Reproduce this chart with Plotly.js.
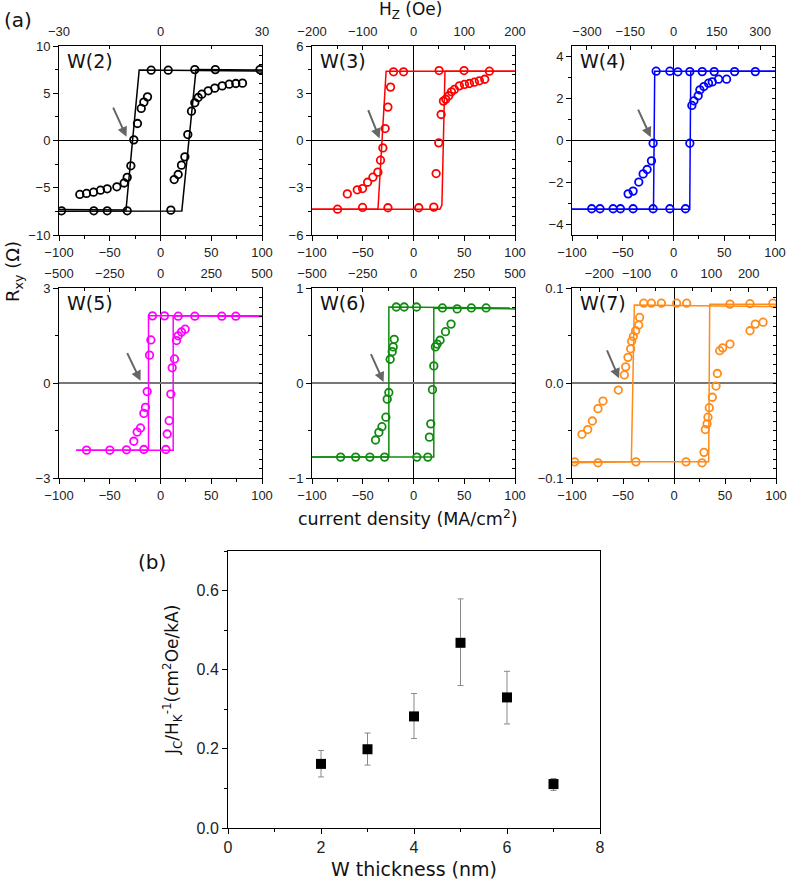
<!DOCTYPE html>
<html>
<head>
<meta charset="utf-8">
<script src="https://cdn.plot.ly/plotly-3.0.1.min.js"></script>
<style>html,body{margin:0;padding:0;background:#fff;}#chart{width:787px;height:884px;}</style>
</head>
<body>
<div id="chart"></div>
<script>
// ---------------- DATA ----------------
// W(2)
const w2LineX = [-100, 21, 35, 100, null, 100, -21, -34, -100];
const w2LineY = [-7.5, -7.45, 7.5, 7.45, null, 7.35, 7.45, -7.35, -7.3];
const w2PtX = [-9.2, 7.6, 33.8, 54, 98, -97.5, -65.7, -52.5, -32.8, 10.2,
  -79.5, -72.9, -66, -59.1, -52.5, -43, -35.8, -32.8, -29.2, -26.3, -22.7, -19, -16.4, -12.8,
  13.5, 17.4, 20.7, 24, 26.9, 30.5, 33.8, 37.1, 40.7, 47, 53.5, 60.8, 67.7, 74.2, 80.8];
const w2PtY = [7.44, 7.44, 7.5, 7.5, 7.5, -7.44, -7.44, -7.44, -7.44, -7.37,
  -5.71, -5.6, -5.47, -5.26, -5.11, -4.9, -4.5, -3.9, -2.68, 0.07, 1.8, 3.39, 4.06, 4.62,
  -4.13, -3.6, -2.61, -1.73, 0.63, 3.1, 3.99, 4.55, 4.9, 5.26, 5.54, 5.78, 5.96, 6.03, 6.07];

// W(3)
const w3LineX = [-100, 26, 28, 31, 100, null, 100, -27, -35, -100];
const w3LineY = [-4.36, -4.36, -4.1, 4.4, 4.4, null, 4.4, 4.4, -4.36, -4.36];
const w3PtX = [-19.7, -9.8, 25.2, 49.8, 74.8, -74.8, -50.2, -25.2, 5.2, 20,
  -65.2, -55.4, -50.2, -45.2, -40, -35.1, -32.5, -30.2, -27.9, -25.2, -22.6,
  22.3, 24.9, 27.2, 29.5, 31.8, 34.8, 37.4, 40.3, 45.2, 50.2, 55.1, 60, 64.9, 70.2];
const w3PtY = [4.36, 4.36, 4.44, 4.44, 4.4, -4.36, -4.25, -4.27, -4.27, -4.23,
  -3.39, -3.13, -3.05, -2.65, -2.33, -2.01, -1.25, -0.47, 0.76, 2.12, 3.39,
  -2.1, -0.15, 1.65, 2.5, 2.62, 2.84, 3.09, 3.24, 3.47, 3.56, 3.62, 3.7, 3.79, 3.89];

// W(4)
const w4LineX = [-100, 16, 17, 100, null, 100, -18.5, -19.7, -100];
const w4LineY = [-3.27, -3.27, 3.3, 3.3, null, 3.3, 3.3, -3.27, -3.27];
const w4PtX = [-17.1, -3.6, 4.3, 16.1, 28.3, 40.1, 60.2, 80.6,
  -80.6, -72.4, -59.5, -52.3, -39.8, -20.1, -3.6, 11.8,
  -44.7, -39.8, -34.2, -29.9, -26, -21.7, -20.1,
  16.1, 18.1, 20.1, 24.3, 26, 29.9, 34.5, 38.2, 44.4, 52.3];
const w4PtY = [3.3, 3.3, 3.27, 3.28, 3.28, 3.28, 3.28, 3.28,
  -3.25, -3.25, -3.25, -3.25, -3.25, -3.25, -3.25, -3.25,
  -2.54, -2.41, -1.98, -1.59, -1.38, -0.97, -0.13,
  -0.13, 1.67, 1.89, 2.13, 2.41, 2.57, 2.73, 2.79, 2.92, 2.92];

// W(5)
const w5LineX = [-83, 12.5, 12.5, 100, null, 100, -11.8, -11.8, -83];
const w5LineY = [-2.12, -2.12, 2.12, 2.1, null, 2.12, 2.12, -2.12, -2.12];
const w5PtX = [-7.9, 3.9, 17.4, 33.8, 60.4, 74.2,
  -72.9, -49.9, -33.5, -16.4, 5.3,
  -26.3, -23, -19.7, -16.4, -14.8, -13.1, -10.8, -9.5,
  6.6, 8.5, 10.2, 11.5, 13.8, 15.8, 17.4, 20.7, 24.3];
const w5PtY = [2.12, 2.12, 2.11, 2.11, 2.11, 2.11,
  -2.12, -2.12, -2.11, -2.1, -2.1,
  -1.84, -1.55, -1.42, -0.96, -0.77, -0.27, 0.88, 1.36,
  -1.61, -1.19, -0.35, 0.48, 0.76, 1.34, 1.49, 1.61, 1.7];

// W(6)
const w6LineX = [-100, 20, 20, 100, null, 95, -24.3, -24.3, -100];
const w6LineY = [-0.78, -0.78, 0.79, 0.78, null, 0.79, 0.8, -0.78, -0.78];
const w6PtX = [-17, -9.2, 3, 28.5, 43, 57, 71.5,
  -71.8, -57, -43, -28.5, 3.3, 14.1,
  -37.4, -34.1, -31.1, -27.2, -25.9, -24.3, -23, -21, -20, -19,
  15.7, 17, 18.7, 20, 21.6, 23.3, 26.2, 31.5, 37];
const w6PtY = [0.8, 0.8, 0.8, 0.79, 0.78, 0.79, 0.79,
  -0.78, -0.78, -0.78, -0.78, -0.78, -0.78,
  -0.6, -0.52, -0.46, -0.36, -0.17, -0.1, 0.25, 0.33, 0.38, 0.46,
  -0.57, -0.43, -0.07, 0.18, 0.38, 0.41, 0.45, 0.54, 0.62];

// W(7)
const w7LineX = [-100, 34, 35, 100, null, 100, -38.9, -41.8, -100];
const w7LineY = [-0.083, -0.083, 0.083, 0.083, null, 0.0805, 0.082, -0.083, -0.084];
const w7PtX = [-29.7, -22.2, -12.4, 2.6, 12.4, 54.9, 74.5, 97,
  -97.4, -74.5, -37.3, 11.8, 27.5,
  -90.2, -84.6, -80, -74.5, -69.6, -54.6, -48.7, -47.4, -45.1, -42.5, -41.5, -39.9, -37.6, -34.6, -33.7,
  29.4, 30.7, 32.4, 33.3, 34.6, 37.6, 41.2, 42.5, 44.8, 47.7, 54.9, 74.5, 79.7, 87.3];
const w7PtY = [0.084, 0.084, 0.084, 0.084, 0.084, 0.083, 0.0835, 0.084,
  -0.083, -0.084, -0.083, -0.083, -0.084,
  -0.054, -0.049, -0.04, -0.027, -0.019, -0.0074, 0.0085, 0.017, 0.027, 0.036, 0.044, 0.049, 0.055, 0.061, 0.069,
  -0.073, -0.049, -0.043, -0.036, -0.026, -0.015, -0.0032, 0.010, 0.034, 0.037, 0.041, 0.055, 0.062, 0.064];

// (b)
const thickness = [2, 3, 4, 5, 6, 7];
const ratio = [0.162, 0.199, 0.282, 0.468, 0.33, 0.111];
const errPlus = [0.034, 0.041, 0.058, 0.111, 0.066, 0.014];
const errMinus = [0.033, 0.040, 0.056, 0.108, 0.067, 0.016];

const panelLabels = ['W(2)', 'W(3)', 'W(4)', 'W(5)', 'W(6)', 'W(7)'];

// ---------------- CONFIG ----------------
const W = 787, H = 884;
const px = v => v / W, py = v => 1 - v / H;
const tickFont = {family: 'Liberation Sans, Arial, sans-serif', size: 13, color: '#222'};
const aid = n => (n === 1 ? '' : String(n));

const panels = [
  {lx: w2LineX, ly: w2LineY, ptx: w2PtX, pty: w2PtY, color: '#000000', yr: [-10, 10], ydt: 5, ymdt: 2.5, rdt: 1, hr: [-30, 30], hdt: 30, hmdt: 15, xd: [59, 262], yd: [46, 235], arrow: [-33.5, 0.39, -47.3, 3.63], zc: '#000', zw: 1},
  {lx: w3LineX, ly: w3LineY, ptx: w3PtX, pty: w3PtY, color: '#ff0000', yr: [-6, 6], ydt: 3, ymdt: 1.5, rdt: 0.6, hr: [-200, 200], hdt: 100, hmdt: 50, xd: [312, 515], yd: [46, 235], arrow: [-33.4, 0.13, -45.2, 2.03], zc: '#000', zw: 1},
  {lx: w4LineX, ly: w4LineY, ptx: w4PtX, pty: w4PtY, color: '#0000ff', yr: [-4.5, 4.5], ydt: 2, ymdt: 1, rdt: 0.5, hr: [-352, 352], hdt: 150, hmdt: 75, xd: [572, 775], yd: [46, 235], arrow: [-22.4, 0.16, -35.5, 1.54], zc: '#000', zw: 1},
  {lx: w5LineX, ly: w5LineY, ptx: w5PtX, pty: w5PtY, color: '#ff00ff', yr: [-3, 3], ydt: 3, ymdt: 1.5, rdt: 0.3, hr: [-500, 500], hdt: 250, hmdt: 125, xd: [59, 262], yd: [288, 478], arrow: [-19.7, 0.07, -33.5, 0.99], zc: '#777', zw: 2},
  {lx: w6LineX, ly: w6LineY, ptx: w6PtX, pty: w6PtY, color: '#108a10', yr: [-1, 1], ydt: 1, ymdt: 0.5, rdt: 0.1, hr: [-500, 500], hdt: 250, hmdt: 125, xd: [312, 515], yd: [288, 478], arrow: [-29.5, 0.01, -42.6, 0.32], zc: '#777', zw: 2},
  {lx: w7LineX, ly: w7LineY, ptx: w7PtX, pty: w7PtY, color: '#ff8c1a', yr: [-0.1, 0.1], ydt: 0.1, ymdt: 0.05, rdt: 0.01, hr: [-273, 273], hdt: 100, hmdt: 50, xd: [572, 776], yd: [288, 478], arrow: [-53.9, 0.0049, -66.3, 0.036], zc: '#777', zw: 2, fmt: '.1f'}
];

const traces = [];
const layout = {
  width: W, height: H,
  margin: {l: 0, r: 0, t: 0, b: 0},
  paper_bgcolor: '#fff', plot_bgcolor: '#fff',
  showlegend: false,
  font: {family: 'DejaVu Sans, Arial, sans-serif', color: '#222'},
  annotations: []
};

panels.forEach((p, i) => {
  const n = i + 1;       // bottom x & left y
  const m = i + 7;       // top x & right y
  const xb = 'x' + aid(n), yl = 'y' + aid(n), xt = 'x' + m, yr = 'y' + m;
  const xd = [px(p.xd[0]), px(p.xd[1])];
  const yd = [py(p.yd[1]), py(p.yd[0])];
  traces.push({x: p.lx, y: p.ly, xaxis: xb, yaxis: yl, mode: 'lines',
    line: {color: p.color, width: 1.5}, connectgaps: false, hoverinfo: 'skip'});
  traces.push({x: p.ptx, y: p.pty, xaxis: xb, yaxis: yl, mode: 'markers',
    marker: {symbol: 'circle-open', size: 7.5, color: p.color, line: {width: 1.8, color: p.color}}});
  // empty traces so the secondary (top / right) axes get a subplot and are drawn
  traces.push({x: [], y: [], xaxis: xt, yaxis: yl, mode: 'markers', hoverinfo: 'skip'});
  traces.push({x: [], y: [], xaxis: xb, yaxis: yr, mode: 'markers', hoverinfo: 'skip'});

  layout['xaxis' + aid(n)] = {domain: xd, range: [-100, 100], anchor: yl,
    showline: true, mirror: true, linecolor: '#000', linewidth: 1,
    ticks: 'outside', ticklen: 5, tickcolor: '#000', dtick: 50, tick0: 0,
    minor: {ticks: 'outside', ticklen: 3, dtick: 25, tick0: 0, tickcolor: '#000'},
    showgrid: false, zeroline: true, zerolinecolor: '#000', zerolinewidth: 1,
    tickfont: tickFont, tickangle: 0, fixedrange: true};
  layout['xaxis' + m] = {domain: xd, range: p.hr, autorange: false, anchor: yl, overlaying: xb, side: 'top',
    showline: false, ticks: 'inside', ticklen: 4, tickcolor: '#000', dtick: p.hdt, tick0: 0,
    minor: {ticks: 'inside', ticklen: 3, dtick: p.hmdt, tick0: 0, tickcolor: '#000'},
    ticklabelstandoff: 6,
    showgrid: false, zeroline: false, tickfont: tickFont, tickangle: 0, fixedrange: true};
  layout['yaxis' + aid(n)] = {domain: yd, range: p.yr, anchor: xb,
    showline: true, mirror: true, linecolor: '#000', linewidth: 1,
    ticks: 'outside', ticklen: 5, tickcolor: '#000', dtick: p.ydt, tick0: 0,
    minor: {ticks: 'outside', ticklen: 3, dtick: p.ymdt, tick0: 0, tickcolor: '#000'},
    showgrid: false, zeroline: true, zerolinecolor: p.zc, zerolinewidth: p.zw,
    tickfont: tickFont, tickformat: p.fmt || '', fixedrange: true};
  layout['yaxis' + m] = {domain: yd, range: p.yr, autorange: false, anchor: xb, overlaying: yl, side: 'right',
    showline: false, ticks: 'inside', ticklen: 3, tickcolor: '#000', dtick: p.rdt, tick0: 0,
    showticklabels: false, showgrid: false, zeroline: false, fixedrange: true};

  layout.annotations.push({xref: xb + ' domain', yref: yl + ' domain', x: 0.03, y: 0.99,
    xanchor: 'left', yanchor: 'top', showarrow: false, text: panelLabels[i],
    font: {family: 'DejaVu Sans, sans-serif', size: 19, color: '#111'}});
  layout.annotations.push({xref: xb, yref: yl, axref: xb, ayref: yl,
    x: p.arrow[0], y: p.arrow[1], ax: p.arrow[2], ay: p.arrow[3], text: '',
    showarrow: true, arrowhead: 2, arrowsize: 1, arrowwidth: 2, arrowcolor: '#666'});
});

// Panel (b)
const bTickFont = {family: 'Liberation Sans, Arial, sans-serif', size: 16, color: '#222'};
traces.push({x: thickness, y: ratio, xaxis: 'x13', yaxis: 'y13', mode: 'markers',
  marker: {symbol: 'square', size: 10, color: '#000'},
  error_y: {type: 'data', symmetric: false, array: errPlus, arrayminus: errMinus,
    color: '#888', thickness: 1, width: 3}});
layout.xaxis13 = {domain: [px(228), px(600)], range: [0, 8], anchor: 'y13',
  showline: true, mirror: true, linecolor: '#000', linewidth: 1,
  ticks: 'outside', ticklen: 5, tickcolor: '#000', dtick: 2, tick0: 0,
  minor: {ticks: 'outside', ticklen: 3, dtick: 1, tick0: 0, tickcolor: '#000'},
  showgrid: false, zeroline: false, tickfont: bTickFont, fixedrange: true};
layout.yaxis13 = {domain: [py(828), py(551)], range: [0, 0.7], anchor: 'x13',
  showline: true, mirror: true, linecolor: '#000', linewidth: 1,
  ticks: 'outside', ticklen: 5, tickcolor: '#000', dtick: 0.2, tick0: 0, tickformat: '.1f',
  minor: {ticks: 'outside', ticklen: 3, dtick: 0.1, tick0: 0, tickcolor: '#000'},
  showgrid: false, zeroline: false, tickfont: bTickFont, fixedrange: true};

// Titles & labels
const tfont = (s) => ({family: 'DejaVu Sans, sans-serif', size: s, color: '#111'});
layout.annotations.push(
  {xref: 'paper', yref: 'paper', x: px(2), y: py(20), xanchor: 'left', yanchor: 'middle', showarrow: false, text: '(a)', font: tfont(20)},
  {xref: 'paper', yref: 'paper', x: px(410), y: py(11), xanchor: 'center', yanchor: 'middle', showarrow: false, text: 'H<sub>Z</sub> (Oe)', font: tfont(17)},
  {xref: 'paper', yref: 'paper', x: px(14), y: py(272), xanchor: 'center', yanchor: 'middle', showarrow: false, textangle: -90, text: 'R<sub>xy</sub> (Ω)', font: tfont(18)},
  {xref: 'paper', yref: 'paper', x: px(408), y: py(518), xanchor: 'center', yanchor: 'middle', showarrow: false, text: 'current density (MA/cm<sup>2</sup>)', font: tfont(17.5)},
  {xref: 'paper', yref: 'paper', x: px(152), y: py(562), xanchor: 'center', yanchor: 'middle', showarrow: false, text: '(b)', font: tfont(20)},
  {xref: 'paper', yref: 'paper', x: px(414), y: py(869), xanchor: 'center', yanchor: 'middle', showarrow: false, text: 'W thickness (nm)', font: tfont(19)},
  {xref: 'paper', yref: 'paper', x: px(172), y: py(680), xanchor: 'center', yanchor: 'middle', showarrow: false, textangle: -90, text: 'J<sub>C</sub>/H<sub>K</sub><sup>-1</sup>(cm<sup>2</sup>Oe/kA)', font: tfont(17)}
);

Plotly.newPlot('chart', traces, layout, {staticPlot: true, displayModeBar: false});
</script>
</body>
</html>
